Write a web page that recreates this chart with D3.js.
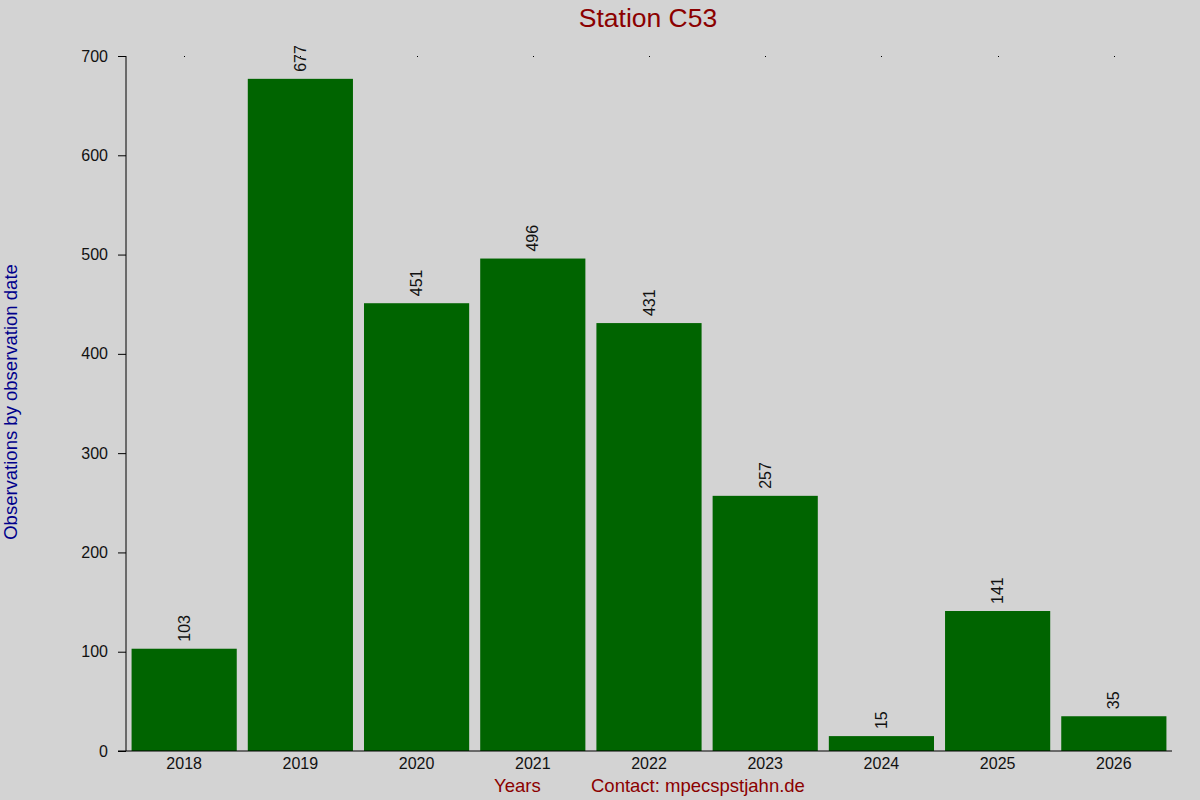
<!DOCTYPE html>
<html>
<head>
<meta charset="utf-8">
<script src="https://cdn.jsdelivr.net/npm/d3@7"></script>
<style>
    body { margin: 0; background: #d3d3d3; }
    svg { display: block; font-family: "Liberation Sans", Arial, sans-serif; }
</style>
</head>
<body>
<svg width="1200" height="800"></svg>
<script>
var years = ["2018", "2019", "2020", "2021", "2022", "2023", "2024", "2025", "2026"];
var counts = [103, 677, 451, 496, 431, 257, 15, 141, 35];
var yTicks = [0, 100, 200, 300, 400, 500, 600, 700];

var svg = d3.select("svg");

svg.append("rect")
    .attr("width", 1200)
    .attr("height", 800)
    .attr("fill", "#d3d3d3");

var xScale = d3.scaleBand().domain(years).range([126, 1172]).paddingInner(0.095).paddingOuter(0.048);
var yScale = d3.scaleLinear().domain([0, 700]).range([751, 56]);

// Bars
svg.append("g")
    .selectAll("rect")
    .data(counts)
    .join("rect")
    .attr("x", (d, i) => xScale(years[i]))
    .attr("y", d => yScale(d))
    .attr("width", xScale.bandwidth())
    .attr("height", d => yScale(0) - yScale(d))
    .attr("fill", "#006400");

// Value labels
svg.append("g")
    .selectAll("text")
    .data(counts)
    .join("text")
    .attr("transform", (d, i) => `translate(${xScale(years[i]) + xScale.bandwidth() / 2 + 5.5},${yScale(d) - 7}) rotate(-90)`)
    .attr("font-size", 16)
    .attr("fill", "#111")
    .text(d => d);

// Y axis
var yAxis = d3.axisLeft(yScale).tickValues(yTicks).tickSize(8).tickPadding(10);
var yG = svg.append("g").attr("transform", "translate(126,0)").call(yAxis);
yG.select(".domain").attr("d", "M0,56V751");
yG.selectAll("text").attr("font-size", 16).attr("fill", "#111").attr("font-family", "Liberation Sans, Arial, sans-serif");

// X axis
var xAxis = d3.axisBottom(xScale).tickSize(0).tickPadding(7);
var xG = svg.append("g").attr("transform", "translate(0,751)").call(xAxis);
xG.select(".domain").attr("d", "M118,0H1172");
xG.selectAll("text").attr("font-size", 16).attr("fill", "#111").attr("font-family", "Liberation Sans, Arial, sans-serif");

// Tiny ticks along the top
svg.append("g")
    .selectAll("rect")
    .data(years)
    .join("rect")
    .attr("x", d => Math.round(xScale(d) + xScale.bandwidth() / 2))
    .attr("y", 56)
    .attr("width", 1)
    .attr("height", 1)
    .attr("fill", "#000");

// Title
svg.append("text")
    .attr("x", 648)
    .attr("y", 27)
    .attr("text-anchor", "middle")
    .attr("font-size", 26.5)
    .attr("fill", "#8b0000")
    .text("Station C53");

// Y label
svg.append("text")
    .attr("transform", "translate(17,402) rotate(-90)")
    .attr("text-anchor", "middle")
    .attr("font-size", 18.5)
    .attr("fill", "#00008b")
    .text("Observations by observation date");

// Bottom labels
svg.append("text")
    .attr("x", 494)
    .attr("y", 792)
    .attr("font-size", 18.5)
    .attr("fill", "#8b0000")
    .text("Years");

svg.append("text")
    .attr("x", 591)
    .attr("y", 792)
    .attr("font-size", 18.5)
    .attr("fill", "#8b0000")
    .text("Contact: mpecspstjahn.de");
</script>
</body>
</html>
